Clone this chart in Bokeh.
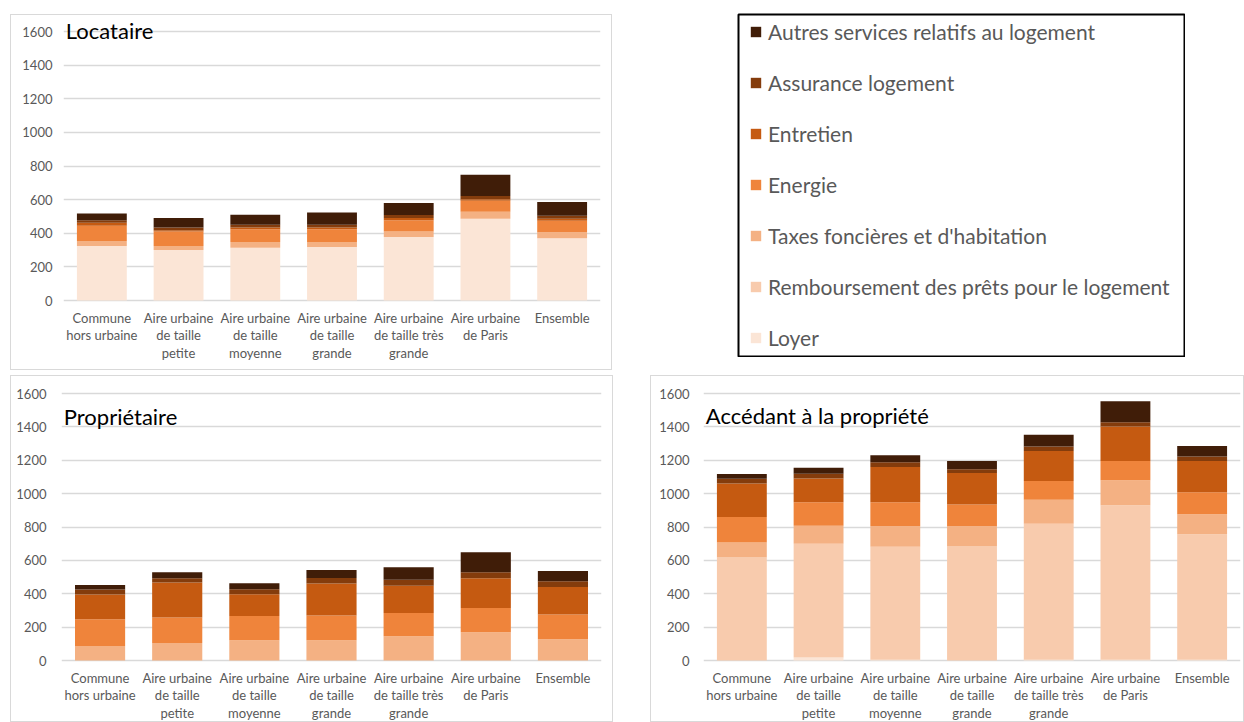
from bokeh.plotting import figure
from bokeh.models import ColumnDataSource, Range1d, FactorRange, FixedTicker, Label, Legend, LegendItem
from bokeh.core.properties import value
from bokeh.layouts import row, column
from bokeh.embed import file_html
from bokeh.resources import INLINE

categories = ["Commune hors urbaine", "Aire urbaine de taille petite", "Aire urbaine de taille moyenne",
              "Aire urbaine de taille grande", "Aire urbaine de taille très grande", "Aire urbaine de Paris",
              "Ensemble"]
tick_labels = ["Commune\nhors urbaine", "Aire urbaine\nde taille\npetite", "Aire urbaine\nde taille\nmoyenne",
               "Aire urbaine\nde taille\ngrande", "Aire urbaine\nde taille très\ngrande", "Aire urbaine\nde Paris",
               "Ensemble"]

series = ["Loyer", "Remboursement des prêts pour le logement", "Taxes foncières et d'habitation",
          "Energie", "Entretien", "Assurance logement", "Autres services relatifs au logement"]
colors = ["#FBE5D6", "#F8CBAD", "#F4B183", "#EF843B", "#C55A11", "#843C0C", "#401D08"]

# Locataire
loc_loyer = [324, 300, 314, 318, 378, 486, 370]
loc_remb = [0, 0, 0, 0, 0, 0, 0]
loc_taxes = [30, 24, 34, 30, 32, 42, 36]
loc_energie = [90, 86, 76, 76, 68, 66, 68]
loc_entretien = [18, 8, 10, 10, 12, 8, 12]
loc_assurance = [16, 16, 16, 16, 18, 20, 18]
loc_autres = [40, 56, 60, 74, 72, 126, 82]

# Propriétaire
prop_loyer = [0, 0, 0, 0, 0, 0, 0]
prop_remb = [0, 0, 0, 0, 0, 0, 0]
prop_taxes = [87, 105, 121, 121, 145, 170, 127]
prop_energie = [160, 152, 145, 149, 139, 145, 148]
prop_entretien = [149, 210, 131, 192, 164, 178, 166]
prop_assurance = [30, 26, 30, 32, 36, 36, 34]
prop_autres = [26, 36, 36, 48, 75, 119, 61]

# Accédant à la propriété
acc_loyer = [0, 18, 4, 0, 4, 4, 4]
acc_remb = [617, 682, 677, 683, 816, 927, 752]
acc_taxes = [90, 107, 123, 121, 143, 149, 121]
acc_energie = [153, 141, 145, 131, 113, 115, 131]
acc_entretien = [201, 143, 211, 189, 179, 207, 187]
acc_assurance = [28, 28, 28, 22, 28, 26, 28]
acc_autres = [28, 36, 42, 50, 70, 125, 62]

y_ticks = [0, 200, 400, 600, 800, 1000, 1200, 1400, 1600]

FONT = "Lato"
GREY = "#595959"
keys = ["s0", "s1", "s2", "s3", "s4", "s5", "s6"]


def make_panel(title, vals, width, height, bl, br, top_px, zero_px, title_px, standoff, margin, bb=2):
    # top_px / zero_px: pixel rows (from the figure top) of the 1600 and 0 gridlines
    ppu = (zero_px - top_px) / 1600.0
    bt = 2
    y_end = 1600 + (top_px - bt) / ppu
    y_start = -((height - bb) - zero_px) / ppu
    data = {"cat": categories}
    for k, v in zip(keys, vals):
        data[k] = v
    src = ColumnDataSource(data)
    p = figure(x_range=FactorRange(*categories), y_range=Range1d(y_start, y_end),
               width=width, height=height, output_backend="svg", toolbar_location=None,
               min_border_left=bl, min_border_right=br, min_border_top=bt, min_border_bottom=bb)
    p.vbar_stack(keys, x="cat", source=src, width=0.65, color=colors, line_color=None)
    p.outline_line_color = None
    p.xgrid.grid_line_color = None
    p.ygrid.grid_line_color = "#D9D9D9"
    p.ygrid.grid_line_width = 1.3
    p.xaxis.visible = False
    p.yaxis.ticker = FixedTicker(ticks=y_ticks)
    ax = p.yaxis[0]
    ax.axis_line_color = None
    ax.major_tick_line_color = None
    ax.minor_tick_line_color = None
    ax.major_label_text_font = FONT
    ax.major_label_text_color = GREY
    ax.major_label_text_font_size = "13px"
    ax.major_label_standoff = standoff
    # category labels (multi-line) under the bars
    p.text(x=categories, y=-9.0 / ppu, text=tick_labels, text_font=value(FONT),
           text_font_size="13px", text_color=GREY, text_align="center", text_baseline="top",
           text_line_height=1.1)
    p.add_layout(Label(x=0.03, y=1600 - (title_px - top_px) / ppu, text=title, text_font=FONT,
                       text_font_size="22px", text_color="black", text_baseline="middle",
                       text_align="left"))
    p.styles = {"border": "1px solid #D9D9D9", "box-sizing": "border-box"}
    p.margin = margin
    return p


p1 = make_panel("Locataire",
                [loc_loyer, loc_remb, loc_taxes, loc_energie, loc_entretien, loc_assurance, loc_autres],
                602, 356, 52, 13, 16, 285, 15, 5, (14, 0, 0, 10))
p2 = make_panel("Propriétaire",
                [prop_loyer, prop_remb, prop_taxes, prop_energie, prop_entretien, prop_assurance, prop_autres],
                603, 347, 50, 13, 17, 284, 40, 9, (5, 0, 0, 10), bb=0)
p3 = make_panel("Accédant à la propriété",
                [acc_loyer, acc_remb, acc_taxes, acc_energie, acc_entretien, acc_assurance, acc_autres],
                594, 347, 52, 5, 17, 284, 39, 8, (5, 0, 0, 37), bb=0)

# Legend panel
pl = figure(frame_width=446, frame_height=343, output_backend="svg", toolbar_location=None,
            x_axis_type=None, y_axis_type=None, x_range=Range1d(0, 1), y_range=Range1d(0, 1),
            min_border=1)
pl.grid.grid_line_color = None
pl.outline_line_color = "black"
pl.outline_line_width = 2
items = []
for name, col in zip(series, colors):
    r = pl.vbar(x=[-10], top=[0], width=0.5, color=col, line_color=None)
    items.append(LegendItem(label=name, renderers=[r]))
leg = Legend(items=list(reversed(items)), location=(11, 7), margin=0, padding=0,
             spacing=26, label_height=25, glyph_height=13, glyph_width=13, label_standoff=6,
             label_text_font=FONT, label_text_font_size="21px", label_text_color=GREY,
             border_line_color=None, background_fill_alpha=0)
pl.add_layout(leg)
pl.margin = (12, 0, 0, 125)

layout = column(row(p1, pl), row(p2, p3))
open("out.html", "w").write(file_html(layout, INLINE))
